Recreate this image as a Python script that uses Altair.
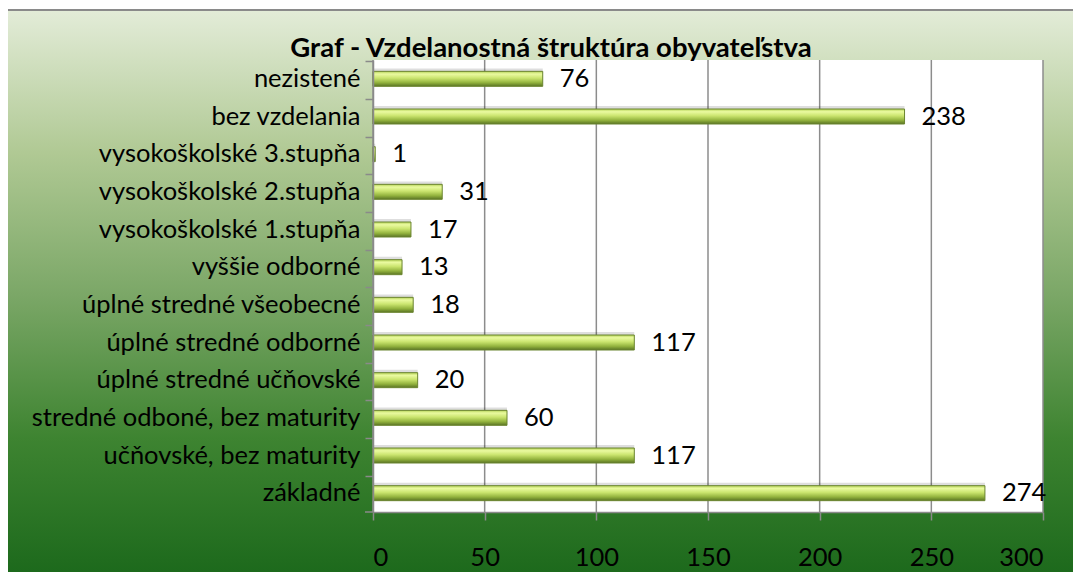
import altair as alt
import pandas as pd

categories = [
    "nezistené",
    "bez vzdelania",
    "vysokoškolské 3.stupňa",
    "vysokoškolské 2.stupňa",
    "vysokoškolské 1.stupňa",
    "vyššie odborné",
    "úplné stredné všeobecné",
    "úplné stredné odborné",
    "úplné stredné učňovské",
    "stredné odboné, bez maturity",
    "učňovské, bez maturity",
    "základné",
]
values = [76, 238, 1, 31, 17, 13, 18, 117, 20, 60, 117, 274]
x_ticks = [0, 50, 100, 150, 200, 250, 300]
title_text = "Graf - Vzdelanostná štruktúra obyvateľstva"

FONT = "Lato"
FS = 25.5
W, H = 670, 452

df = pd.DataFrame({"kat": categories, "pocet": values})
ticks_df = pd.DataFrame({"t": x_ticks})
one = pd.DataFrame({"a": [0]})

xscale = alt.Scale(domain=[0, 300], nice=False, zero=True)
xaxis = alt.Axis(values=x_ticks, grid=False, domainColor="#8a8a8a", domainWidth=1.5,
                 tickColor="#8a8a8a", tickWidth=1.5, tickSize=8,
                 labelFont=FONT, labelFontSize=FS, labelColor="black",
                 labelPadding=25, zindex=1, title=None)

bg = alt.Chart(one).mark_rect(
    fill=alt.Gradient(
        gradient="linear", x1=0, y1=0, x2=0, y2=1,
        stops=[
            alt.GradientStop(offset=0, color="#e3ecd8"),
            alt.GradientStop(offset=0.25, color="#b0c994"),
            alt.GradientStop(offset=0.5, color="#7ba767"),
            alt.GradientStop(offset=0.75, color="#3e8431"),
            alt.GradientStop(offset=1, color="#1b681b"),
        ],
    ),
    stroke="#8a8a8a", strokeWidth=2,
).encode(x=alt.value(-366), x2=alt.value(720), y=alt.value(-50), y2=alt.value(520))

plotbg = alt.Chart(one).mark_rect(fill="white").encode(
    x=alt.value(0), x2=alt.value(W), y=alt.value(0), y2=alt.value(H)
)

bottom_tick = alt.Chart(one).mark_rule(color="#8a8a8a", strokeWidth=1.5).encode(
    x=alt.value(-8), x2=alt.value(0), y=alt.value(H)
)

grid = alt.Chart(ticks_df).mark_rule(color="#8c8c8c", strokeWidth=1.5).encode(
    x=alt.X("t:Q", scale=xscale, axis=xaxis, title=None),
    y=alt.value(0), y2=alt.value(H),
)

bar_fill = alt.Gradient(
    gradient="linear", x1=0, y1=0, x2=0, y2=1,
    stops=[
        alt.GradientStop(offset=0, color="#b4d257"),
        alt.GradientStop(offset=0.18, color="#eafaa0"),
        alt.GradientStop(offset=0.45, color="#cbe56f"),
        alt.GradientStop(offset=0.75, color="#93b33e"),
        alt.GradientStop(offset=1, color="#5a7424"),
    ],
)

yaxis = alt.Axis(bandPosition=0, domainColor="#8a8a8a", domainWidth=1.5,
                 tickColor="#8a8a8a", tickWidth=1.5, tickSize=8,
                 labelFont=FONT, labelFontSize=FS, labelColor="black",
                 labelPadding=5, grid=False, zindex=1, labelLimit=400)

base = alt.Chart(df).encode(
    y=alt.Y("kat:N", sort=categories, title=None, axis=yaxis),
)

shadow = base.mark_bar(size=15, color="#000000", opacity=0.13).encode(
    x=alt.X("pocet:Q", scale=xscale, axis=xaxis, title=None),
    yOffset=alt.value(14),
)

bars = base.mark_bar(size=15, fill=bar_fill, stroke="#6b8530", strokeWidth=1).encode(
    x=alt.X("pocet:Q", scale=xscale, axis=xaxis, title=None),
)

labels = base.mark_text(align="left", baseline="middle", dx=17, font=FONT,
                        fontSize=FS, color="black").encode(
    x=alt.X("pocet:Q", scale=xscale, axis=xaxis, title=None),
    text=alt.Text("pocet:Q"),
)

title = alt.Chart(pd.DataFrame({"t": [title_text]})).mark_text(
    font=FONT, fontSize=27.5, fontWeight="bold", color="black",
    align="center", baseline="alphabetic",
).encode(x=alt.value(178), y=alt.value(-3), text="t:N")

chart = alt.layer(bg, plotbg, bottom_tick, grid, shadow, bars, labels, title).properties(
    width=W, height=H,
    autosize=alt.AutoSizeParams(type="none"),
    padding={"left": 365, "top": 52, "right": 30, "bottom": 60},
).configure_view(stroke=None)

chart.save("out.html", embed_options={"renderer": "svg", "actions": False})
